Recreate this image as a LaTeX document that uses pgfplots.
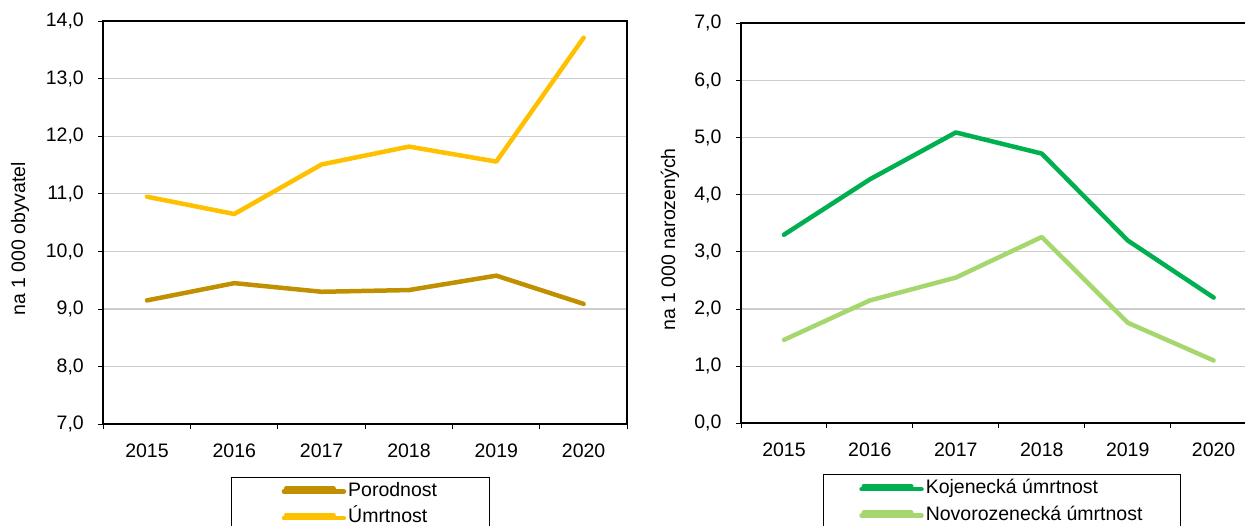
\documentclass[border=0pt]{standalone}
\usepackage{pgfplots}
\pgfplotsset{compat=1.18}
\usepackage{fontspec}
\setmainfont{Liberation Sans}

\definecolor{porod}{RGB}{192,144,0}
\definecolor{umrt}{RGB}{255,192,0}
\definecolor{kojen}{RGB}{0,176,80}
\definecolor{novor}{RGB}{166,214,110}
\definecolor{gridc}{RGB}{205,205,205}

\pgfplotsset{
  panel/.style={
    scale only axis,
    clip=false,
    xmin=-0.5, xmax=5.5,
    xtick={0,...,5},
    xticklabels={2015,2016,2017,2018,2019,2020},
    major x tick style={draw=none},
    minor xtick={-0.5,0.5,...,5.5},
    tick pos=left,
    tick align=outside,
    major tick length=5bp, minor tick length=5bp,
    ytick distance=1,
    ymajorgrids,
    major grid style={gridc, line width=1.2bp},
    axis line style={black, line width=1.6bp},
    tick style={black, line width=1bp},
    yticklabel style={xshift=-11bp, /pgf/number format/fixed, /pgf/number format/fixed zerofill,
      /pgf/number format/precision=1, /pgf/number format/use comma},
    xticklabel style={yshift=-11bp},
    /pgf/number format/assume math mode=true,
    font=\fontsize{19.5bp}{23bp}\selectfont,
    every axis plot/.append style={line width=4.5bp, line join=round, line cap=round},
    legend image code/.code={
      \path (0bp,0bp) -- (60bp,0bp);
      \draw[##1, line width=4.5bp, line cap=round] (2.25bp,3bp) -- (49.75bp,3bp);},
    legend cell align=left,
    legend style={draw=black, line width=1bp, anchor=north,
      font=\fontsize{19.5bp}{23bp}\selectfont,
      inner ysep=3bp, row sep=4bp,
      nodes={inner ysep=2bp, text height=14bp, text depth=4.5bp}},
  }
}

\begin{document}
\begin{tikzpicture}
% births and deaths
\begin{axis}[panel,
    at={(103.3bp,101.7bp)}, anchor=south west,
    width=524bp, height=403.3bp,
    ymin=7, ymax=14,
    ylabel={na 1 000 obyvatel},
    ylabel style={at={(axis description cs:-0.159,0.46)}, anchor=center},
    legend style={at={(axis description cs:0.4906,-0.13)}, inner xsep=50bp},
  ]
  \addplot[porod] coordinates {(0,9.15) (1,9.45) (2,9.30) (3,9.33) (4,9.58) (5,9.09)};
  \addlegendentry{Porodnost}
  \addplot[umrt] coordinates {(0,10.95) (1,10.65) (2,11.51) (3,11.82) (4,11.56) (5,13.71)};
  \addlegendentry{Úmrtnost}
  \draw[black, line width=2bp] (rel axis cs:0,0) rectangle (rel axis cs:1,1);
\end{axis}

% infant and neonatal mortality
\begin{axis}[panel,
    at={(741bp,102.7bp)}, anchor=south west,
    width=515.6bp, height=400bp,
    ymin=0, ymax=7,
    ylabel={na 1 000 narozených},
    ylabel style={at={(axis description cs:-0.138,0.46)}, anchor=center},
    legend style={at={(axis description cs:0.506,-0.1275)}, inner xsep=36bp},
  ]
  \addplot[kojen] coordinates {(0,3.30) (1,4.27) (2,5.09) (3,4.72) (4,3.20) (5,2.20)};
  \addlegendentry{Kojenecká úmrtnost}
  \addplot[novor] coordinates {(0,1.46) (1,2.15) (2,2.55) (3,3.26) (4,1.76) (5,1.10)};
  \addlegendentry{Novorozenecká úmrtnost}
  \draw[black, line width=2bp] (rel axis cs:0,0) rectangle (rel axis cs:1,1);
\end{axis}

% crop to the reference frame
\pgfresetboundingbox
\path[use as bounding box] (0,0) rectangle (1245bp,526bp);
\end{tikzpicture}
\end{document}
